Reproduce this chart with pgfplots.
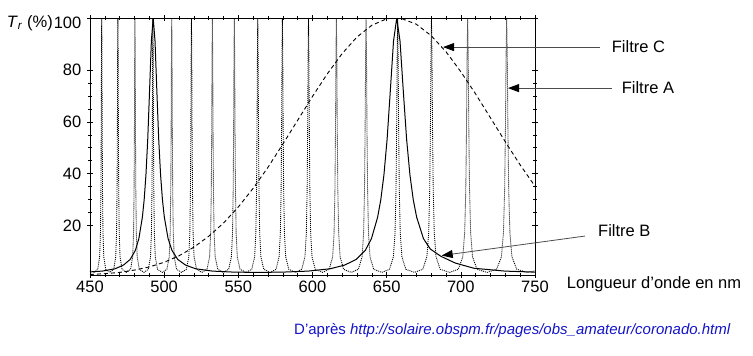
\documentclass[border=0pt]{standalone}
\usepackage{fontspec}
\setmainfont{Liberation Sans}
\usepackage{pgfplots}
\pgfplotsset{compat=1.18}
\usetikzlibrary{arrows.meta}
\definecolor{srcblue}{RGB}{20,20,200}

\begin{document}
\fontsize{16.5}{19}\selectfont
\begin{tikzpicture}
\begin{axis}[name=ax, scale only axis, width=445pt, height=257pt,
  xmin=450, xmax=750, ymin=1, ymax=100,
  xtick={450,500,...,750}, ytick={20,40,60,80},
  extra y ticks={100}, extra y tick style={yticklabel style={yshift=-5pt}},
  minor x tick num=4, minor y tick num=3,
  tick align=center, major tick length=6pt, minor tick length=4pt,
  tick style={black, line width=0.6pt},
  axis line style={black, line width=0.8pt},
  /pgf/number format/assume math mode=true,
  tick label style={font=\fontsize{16.5}{19}\selectfont},
  xticklabel style={yshift=3pt},
  clip mode=individual]

% Filtre A (dotted comb)
\addplot[black, line width=0.85pt, dash pattern=on 1pt off 1pt] table {
450 2.8
452.7 2.0
455.2 3.2
456.5 8.0
457.04 17.2
457.37 34.0
457.58 58.5
457.74 84.9
457.9 100
458.06 84.9
458.22 58.5
458.44 34.0
458.76 17.2
459.29 8.0
460.58 3.2
463.35 2.0
466.0 3.2
467.34 8.0
467.90 17.2
468.24 34.0
468.46 58.5
468.63 84.9
468.8 100
468.97 84.9
469.14 58.5
469.36 34.0
469.70 17.2
470.26 8.0
471.6 3.2
474.55 2.0
477.35 3.2
478.77 8.0
479.36 17.2
479.71 34.0
479.95 58.5
480.12 84.9
480.3 100
480.48 84.9
480.65 58.5
480.89 34.0
481.24 17.2
481.83 8.0
483.25 3.2
486.35 2.0
489.3 3.2
490.79 8.0
491.41 17.2
491.78 34.0
492.03 58.5
492.21 84.9
492.4 100
492.59 84.9
492.77 58.5
493.02 34.0
493.39 17.2
494.01 8.0
495.5 3.2
498.75 2.0
501.85 3.2
503.41 8.0
504.06 17.2
504.45 34.0
504.71 58.5
504.91 84.9
505.1 100
505.3 84.9
505.49 58.5
505.75 34.0
506.14 17.2
506.79 8.0
508.35 3.2
511.75 2.0
514.98 3.2
516.62 8.0
517.30 17.2
517.72 34.0
517.99 58.5
518.19 84.9
518.4 100
518.61 84.9
518.81 58.5
519.09 34.0
519.50 17.2
520.18 8.0
521.83 3.2
525.45 2.0
528.88 3.2
530.62 8.0
531.34 17.2
531.78 34.0
532.07 58.5
532.28 84.9
532.5 100
532.72 84.9
532.94 58.5
533.23 34.0
533.66 17.2
534.39 8.0
536.13 3.2
539.9 2.0
543.48 3.2
545.31 8.0
546.08 17.2
546.54 34.0
546.84 58.5
547.07 84.9
547.3 100
547.53 84.9
547.76 58.5
548.07 34.0
548.52 17.2
549.29 8.0
551.13 3.2
555.2 2.0
559.05 3.2
561.0 8.0
561.80 17.2
562.29 34.0
562.61 58.5
562.86 84.9
563.1 100
563.34 84.9
563.59 58.5
563.91 34.0
564.40 17.2
565.21 8.0
567.15 3.2
571.4 2.0
575.43 3.2
577.48 8.0
578.33 17.2
578.85 34.0
579.19 58.5
579.44 84.9
579.7 100
579.96 84.9
580.21 58.5
580.56 34.0
581.07 17.2
581.92 8.0
583.98 3.2
588.5 2.0
592.75 3.2
594.93 8.0
595.84 17.2
596.39 34.0
596.75 58.5
597.03 84.9
597.3 100
597.57 84.9
597.85 58.5
598.21 34.0
598.76 17.2
599.67 8.0
601.85 3.2
606.7 2.0
611.26 3.2
613.58 8.0
614.55 17.2
615.13 34.0
615.52 58.5
615.81 84.9
616.1 100
616.39 84.9
616.68 58.5
617.07 34.0
617.65 17.2
618.62 8.0
620.94 3.2
626.1 2.0
630.95 3.2
633.42 8.0
634.45 17.2
635.07 34.0
635.48 58.5
635.79 84.9
636.1 100
636.41 84.9
636.72 58.5
637.13 34.0
637.75 17.2
638.78 8.0
641.25 3.2
646.75 2.0
651.9 3.2
654.54 8.0
655.64 17.2
656.3 34.0
656.74 58.5
657.07 84.9
657.4 100
657.73 84.9
658.06 58.5
658.5 34.0
659.16 17.2
660.26 8.0
662.9 3.2
668.8 2.0
674.3 3.2
677.13 8.0
678.31 17.2
679.02 34.0
679.49 58.5
679.85 84.9
680.2 100
680.55 84.9
680.91 58.5
681.38 34.0
682.09 17.2
683.27 8.0
686.1 3.2
692.4 2.0
698.28 3.2
701.31 8.0
702.58 17.2
703.34 34.0
703.84 58.5
704.22 84.9
704.6 100
704.98 84.9
705.36 58.5
705.87 34.0
706.62 17.2
707.89 8.0
710.93 3.2
717.75 2.0
724.1 3.2
727.36 8.0
728.72 17.2
729.54 34.0
730.08 58.5
730.49 84.9
730.9 100
731.31 84.9
731.72 58.5
732.26 34.0
733.08 17.2
734.44 8.0
737.7 3.2
744.95 2.0
750 2.6
};

% Filtre B (solid)
\addplot[black, line width=1pt] table {
450 2.2
452.97 2.3
458.24 2.5
466.92 3.4
472.52 4.8
477.10 7.0
480.59 10.5
482.94 15.0
485.32 23.3
486.52 30.0
487.72 39.6
488.93 53.3
490.15 71.9
491.37 91.1
492.6 100
493.84 91.1
495.07 71.9
496.32 53.3
497.58 39.6
498.84 30.0
500.10 23.3
502.65 15.0
505.23 10.5
509.15 7.0
514.46 4.8
521.27 3.4
532.54 2.5
547.33 2.1
562.97 2.0
579.53 2.1
597.09 2.5
611.93 3.4
621.58 4.8
629.52 7.0
635.61 10.5
639.74 15.0
643.92 23.3
646.04 30.0
648.16 39.6
650.30 53.3
652.45 71.9
654.62 91.1
656.8 100
659.00 91.1
661.21 71.9
663.44 53.3
665.68 39.6
667.93 30.0
670.20 23.3
674.80 15.0
679.45 11.0
686.55 8.2
696.26 5.6
708.78 3.6
729.78 2.5
750 2.1
};

% Filtre C (dashed)
\addplot[black, line width=0.9pt, dash pattern=on 4pt off 3pt] table {
450 1.2
460 1.5
470 2.0
480 2.9
490 4.1
500 5.9
510 8.4
520 11.7
530 15.9
540 21.0
550 27.2
560 34.4
570 42.5
580 51.4
590 60.6
600 69.8
610 78.5
620 86.3
630 92.7
640 97.2
650 99.7
655.5 100
660 99.8
670 97.6
680 93.2
690 87.0
700 79.3
710 70.7
720 61.5
730 52.3
740 43.4
750 35.2
};

% annotations
\draw[gray!60!black, line width=0.8pt, -{Triangle[length=11pt,width=8pt,color=black]}] (axis cs:793.8,88.8) -- (axis cs:688,88.8);
\draw[gray!60!black, line width=0.8pt, -{Triangle[length=11pt,width=8pt,color=black]}] (axis cs:802,73.0) -- (axis cs:731.8,73.0);
\draw[gray!60!black, line width=0.8pt, -{Triangle[length=11pt,width=8pt,color=black]}] (axis cs:783.7,16.0) -- (axis cs:687.1,8.5);
\node[anchor=west, inner sep=0pt] at (axis cs:801.7,88.8) {Filtre C};
\node[anchor=west, inner sep=0pt] at (axis cs:808.4,73.0) {Filtre A};
\node[anchor=west, inner sep=0pt] at (axis cs:792.5,18.1) {Filtre B};

\node[anchor=east, inner sep=0pt] at ([xshift=-37pt,yshift=-5pt]rel axis cs:0,1) {\textit{T}\textsubscript{\textit{r}} (\%)};
\node[anchor=base west, inner sep=0pt] at ([xshift=31.7pt,yshift=-14pt]rel axis cs:1,0) {Longueur d’onde en nm};
\node[anchor=base west, inner sep=0pt, text=srcblue, font=\fontsize{15}{18}\selectfont] at ([xshift=204pt,yshift=-60pt]rel axis cs:0,0) {D’après \textit{http://solaire.obspm.fr/pages/obs\_amateur/coronado.html}};
\end{axis}
\path ([shift={(-90pt,-81pt)}]ax.south west) rectangle ([shift={(218pt,18pt)}]ax.north east);
\end{tikzpicture}
\end{document}
